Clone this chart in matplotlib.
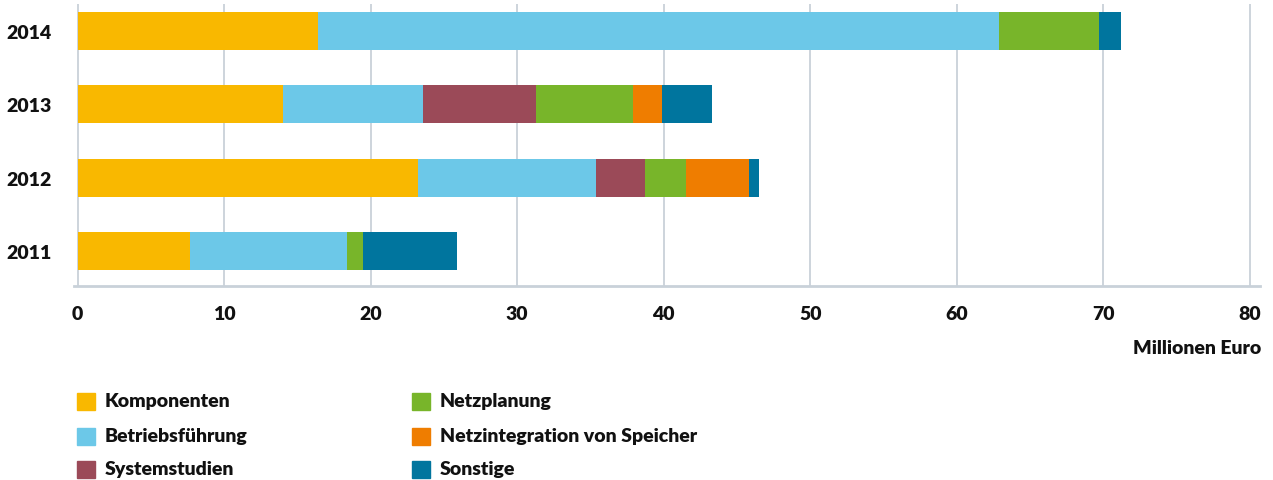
import numpy as np
import matplotlib
matplotlib.use('Agg')
import matplotlib.pyplot as plt
from matplotlib.patches import Rectangle

plt.rcParams['font.family'] = ['Lato', 'DejaVu Sans']
plt.rcParams['font.weight'] = 'heavy'

years = ['2011', '2012', '2013', '2014']
categories = ['Komponenten', 'Betriebsführung', 'Systemstudien',
              'Netzplanung', 'Netzintegration von Speicher', 'Sonstige']
colors = ['#F9B800', '#6CC8E8', '#9B4A58', '#78B52A', '#EF7D00', '#00759E']

# Millionen Euro per year (2011..2014)
komponenten = [7.65, 23.2, 14.0, 16.4]
betrieb = [10.75, 12.2, 9.55, 46.5]
systemstudien = [0.0, 3.3, 7.75, 0.0]
netzplanung = [1.1, 2.8, 6.6, 6.8]
netzintegration = [0.0, 4.3, 2.0, 0.0]
sonstige = [6.4, 0.7, 3.4, 1.5]

series = [komponenten, betrieb, systemstudien, netzplanung, netzintegration, sonstige]

fig = plt.figure(figsize=(12.73, 4.81), dpi=100)
ax = fig.add_axes([74/1273, 1-287/481, (1260-74)/1273, (287-5)/481])

ypos = np.arange(len(years))
left = np.zeros(len(years))
for vals, col, name in zip(series, colors, categories):
    ax.barh(ypos, vals, left=left, height=0.52, color=col, label=name, zorder=3)
    left += np.array(vals)

ax.set_xlim(-0.25, 80.7)
ax.set_ylim(-0.477, 3.368)
ax.set_xticks(range(0, 81, 10))
ax.set_xticklabels([str(v) for v in range(0, 81, 10)], fontweight='heavy')
ax.set_yticks(ypos)
ax.set_yticklabels(years, fontweight='heavy')
ax.xaxis.grid(True, color='#C9D1D9', lw=1.3, zorder=0)
for s in ['top', 'right', 'left']:
    ax.spines[s].set_visible(False)
ax.spines['bottom'].set_color('#C9D1D9')
ax.spines['bottom'].set_linewidth(2)
ax.tick_params(axis='both', length=0, labelsize=14, labelcolor='#111111')
ax.tick_params(axis='x', pad=14)
ax.tick_params(axis='y', pad=16)

fig.text(1261/1273, 1-348/481, 'Millionen Euro', ha='right', va='center',
         fontsize=14, fontweight='heavy', color='#111111')

# legend, two columns
col_x = [77, 412]
row_y = [402, 437, 470]
for i, (name, col) in enumerate(zip(categories, colors)):
    cx = col_x[i // 3]
    cy = row_y[i % 3]
    fig.add_artist(Rectangle((cx/1273, 1-(cy+8.5)/481), 18/1273, 17/481,
                             transform=fig.transFigure, color=col))
    fig.text((cx+28)/1273, 1-cy/481, name, ha='left', va='center',
             fontsize=14, fontweight='heavy', color='#111111')

fig.savefig('out.png', dpi=100)
